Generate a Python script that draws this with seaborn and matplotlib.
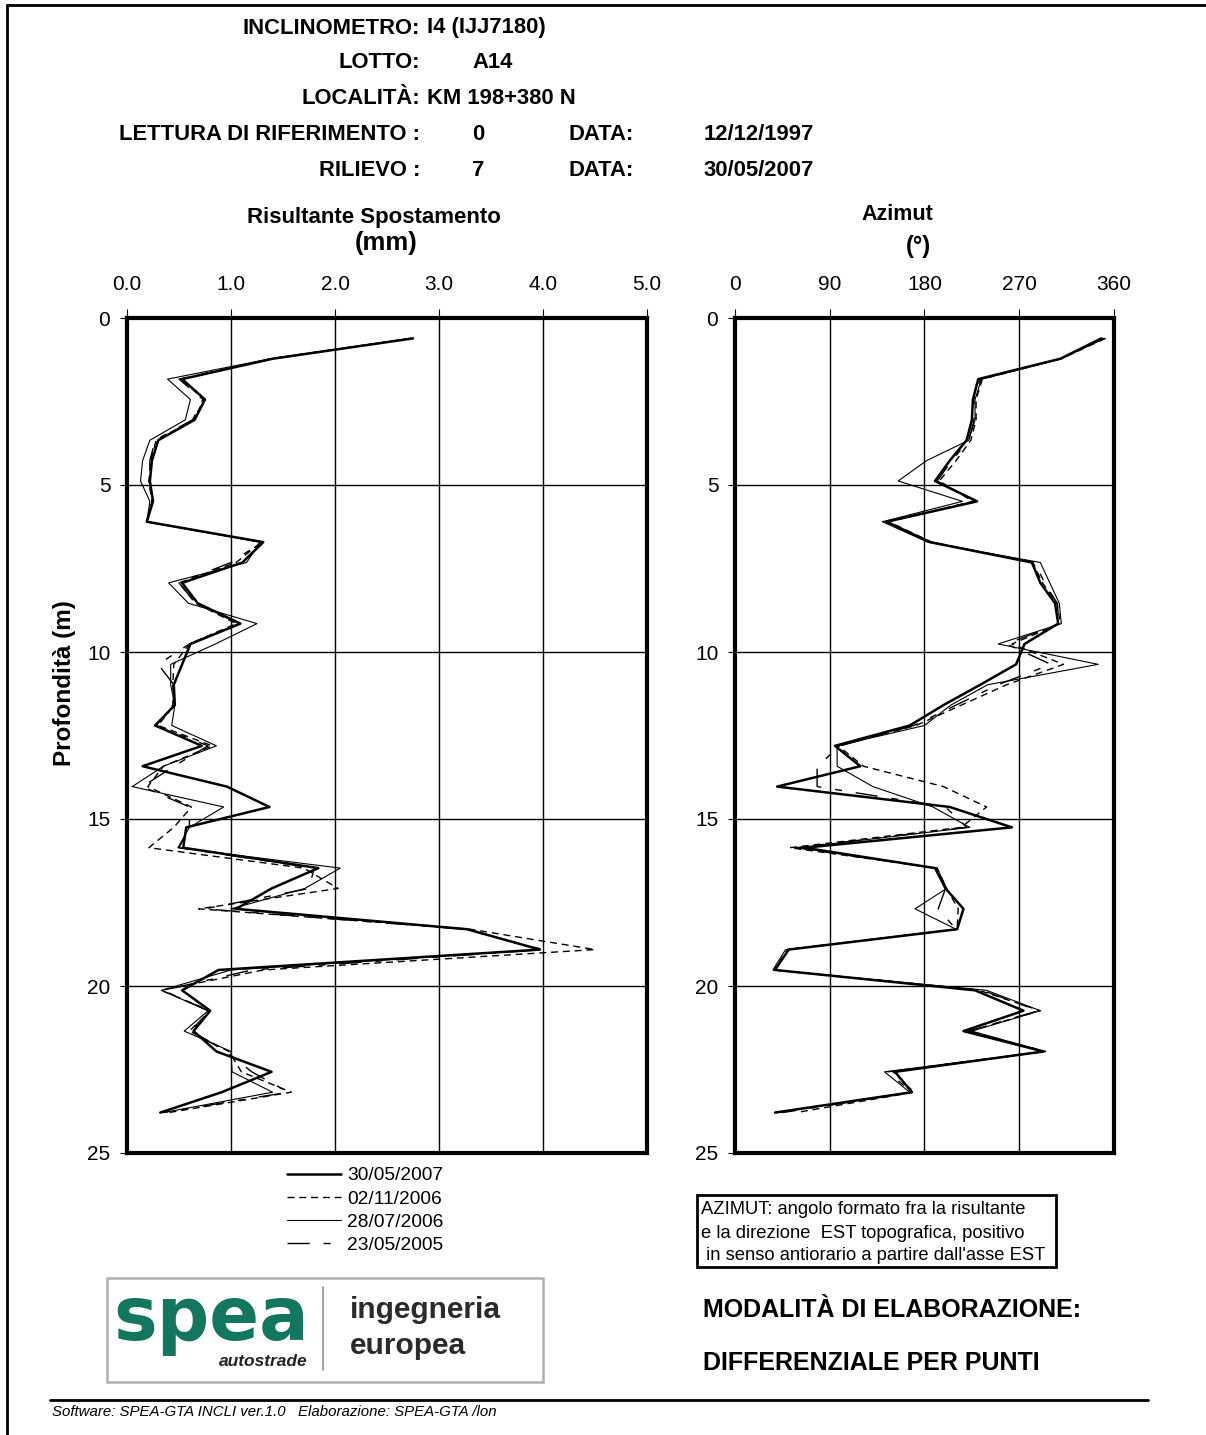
import numpy as np
import pandas as pd
import matplotlib
matplotlib.use("Agg")
import matplotlib.pyplot as plt
from matplotlib.lines import Line2D
from matplotlib.patches import Rectangle
import seaborn as sns


sns.set_style("white")
plt.rcParams['font.family'] = ['Liberation Sans', 'DejaVu Sans']
plt.rcParams['text.color'] = 'black'
plt.rcParams['axes.labelcolor'] = 'black'
plt.rcParams['xtick.color'] = 'black'
plt.rcParams['ytick.color'] = 'black'

W, H = 1206, 1435

# depth of readings (m), every 0.61 m
depth = [0.61, 1.22, 1.83, 2.44, 3.05, 3.66, 4.27, 4.88, 5.49, 6.10,
         6.71, 7.32, 7.93, 8.54, 9.15, 9.76, 10.37, 10.98, 11.59, 12.20,
         12.81, 13.42, 14.03, 14.64, 15.25, 15.86, 16.47, 17.08, 17.69, 18.30,
         18.91, 19.52, 20.13, 20.74, 21.35, 21.96, 22.57, 23.18, 23.79]

dates = ['30/05/2007', '02/11/2006', '28/07/2006', '23/05/2005']

# risultante spostamento (mm)
disp_20070530 = [2.75, 1.40, 0.53, 0.75, 0.65, 0.30, 0.24, 0.22, 0.25, 0.19,
                 1.31, 1.11, 0.53, 0.68, 1.09, 0.61, 0.53, 0.45, 0.46, 0.27,
                 0.72, 0.15, 0.96, 1.37, 0.57, 0.54, 1.84, 1.39, 1.05, 3.27,
                 3.97, 0.88, 0.53, 0.80, 0.64, 0.86, 1.39, 0.91, 0.32]
disp_20061102 = [2.73, 1.38, 0.52, 0.74, 0.64, 0.28, 0.23, 0.21, 0.24, 0.19,
                 1.29, 1.05, 0.50, 0.66, 1.05, 0.60, 0.45, 0.44, 0.45, 0.30,
                 0.82, 0.35, 0.20, 0.62, 0.45, 0.21, 1.70, 2.03, 0.69, 3.30,
                 4.50, 1.31, 0.33, 0.80, 0.60, 0.98, 1.10, 1.58, 0.40]
disp_20060728 = [2.72, 1.38, 0.39, 0.61, 0.56, 0.22, 0.15, 0.13, 0.22, 0.19,
                 1.28, 1.15, 0.40, 0.59, 1.25, 0.85, 0.42, 0.42, 0.46, 0.43,
                 0.86, 0.35, 0.05, 0.93, 0.60, 0.49, 2.05, 1.71, 1.00, 3.27,
                 3.97, 1.00, 0.33, 0.78, 0.55, 1.00, 1.01, 1.40, 0.35]
disp_20050523 = [2.74, 1.40, 0.50, 0.73, 0.63, 0.27, 0.22, 0.22, 0.24, 0.19,
                 1.30, 1.00, 0.50, 0.66, 1.08, 0.60, 0.30, 0.45, 0.44, 0.28,
                 0.78, 0.45, 0.15, 0.60, 0.60, 0.50, 1.80, 1.75, 0.75, 3.25,
                 4.00, 1.20, 0.35, 0.78, 0.62, 0.95, 1.20, 1.55, 0.35]

# azimut (gradi)
azi_20070530 = [348, 309, 231, 226, 225, 220, 204, 190, 230, 144,
                185, 282, 290, 304, 307, 275, 267, 233, 198, 166,
                95, 119, 40, 204, 263, 66, 190, 200, 217, 211,
                51, 38, 228, 274, 217, 293, 152, 168, 38]
azi_20061102 = [352, 310, 235, 229, 229, 224, 210, 194, 226, 146,
                187, 283, 292, 306, 309, 263, 312, 258, 215, 172,
                98, 122, 198, 239, 215, 52, 192, 201, 212, 211,
                50, 37, 232, 290, 222, 295, 150, 170, 58]
azi_20060728 = [350, 310, 234, 228, 228, 222, 182, 155, 216, 140,
                183, 290, 299, 308, 310, 250, 345, 240, 205, 180,
                97, 97, 131, 188, 223, 60, 192, 201, 171, 210,
                48, 36, 239, 290, 225, 294, 142, 166, 40]
azi_20050523 = [351, 309, 233, 227, 227, 222, 206, 192, 228, 143,
                186, 285, 294, 306, 308, 258, 300, 250, 210, 170,
                100, 78, 78, 200, 220, 58, 190, 200, 193, 210,
                50, 38, 235, 288, 222, 294, 145, 168, 45]

disp_ticks = [0.0, 1.0, 2.0, 3.0, 4.0, 5.0]
azi_ticks = [0, 90, 180, 270, 360]
depth_ticks = [0, 5, 10, 15, 20, 25]

styles = {
    '30/05/2007': dict(lw=1.8, ls='-'),
    '02/11/2006': dict(lw=1.0, ls=(0, (5, 3.5))),
    '28/07/2006': dict(lw=0.8, ls='-'),
    '23/05/2005': dict(lw=1.0, ls=(0, (16, 10, 5, 10))),
}

disp = pd.DataFrame({'depth': depth * 4,
                     'value': disp_20070530 + disp_20061102 + disp_20060728 + disp_20050523,
                     'date': sum([[d] * len(depth) for d in dates], [])})
azi = pd.DataFrame({'depth': depth * 4,
                    'value': azi_20070530 + azi_20061102 + azi_20060728 + azi_20050523,
                    'date': sum([[d] * len(depth) for d in dates], [])})


def px(x, y):
    return x / W, 1 - y / H


fig = plt.figure(figsize=(W / 100, H / 100), dpi=100)
ax1 = fig.add_axes([127 / W, 1 - 1153 / H, 520 / W, 835 / H])
ax2 = fig.add_axes([735 / W, 1 - 1153 / H, 379 / W, 835 / H])


def draw(ax, df, xlim, xticks, xlabels):
    # oldest first so the latest reading ends up on top
    for d in dates[::-1]:
        sub = df[df['date'] == d]
        sns.lineplot(data=sub, x='value', y='depth', sort=False, estimator=None,
                     ax=ax, color='black', label=d, linewidth=styles[d]['lw'],
                     linestyle=styles[d]['ls'])
    if ax.get_legend() is not None:
        ax.get_legend().remove()
    ax.set_xlim(*xlim)
    ax.set_ylim(25, 0)
    ax.set_xticks(xticks)
    ax.set_xticklabels(xlabels)
    ax.set_yticks(depth_ticks)
    ax.xaxis.tick_top()
    ax.set_xlabel('')
    ax.set_ylabel('')
    ax.grid(True, color='black', linewidth=1.0)
    ax.tick_params(axis='x', top=True, bottom=False, direction='out', length=6.5,
                   width=0.8, pad=11, labelsize=15)
    ax.tick_params(axis='y', left=True, direction='out', length=5, width=0.8,
                   pad=7, labelsize=15)
    for s in ax.spines.values():
        s.set_linewidth(3)
        s.set_color('black')
        s.set_zorder(5)


draw(ax1, disp, (0, 5), disp_ticks, ['%.1f' % t for t in disp_ticks])
draw(ax2, azi, (0, 360), azi_ticks, [str(t) for t in azi_ticks])

# header
rows = [28, 63, 98, 134, 170]
hk = dict(fontsize=15.8, fontweight='bold', va='center')
fig.text(*px(420, rows[0]), 'INCLINOMETRO:', ha='right', **hk)
fig.text(*px(427, rows[0]), 'I4 (IJJ7180)', ha='left', **hk)
fig.text(*px(420, rows[1]), 'LOTTO:', ha='right', **hk)
fig.text(*px(472, rows[1]), 'A14', ha='left', **hk)
fig.text(*px(420, rows[2]), 'LOCALITÀ:', ha='right', **hk)
fig.text(*px(427, rows[2]), 'KM 198+380 N', ha='left', **hk)
fig.text(*px(420, rows[3]), 'LETTURA DI RIFERIMENTO :', ha='right', **hk)
fig.text(*px(472, rows[3]), '0', ha='left', **hk)
fig.text(*px(568, rows[3]), 'DATA:', ha='left', **hk)
fig.text(*px(704, rows[3]), '12/12/1997', ha='left', **hk)
fig.text(*px(420, rows[4]), 'RILIEVO :', ha='right', **hk)
fig.text(*px(472, rows[4]), '7', ha='left', **hk)
fig.text(*px(568, rows[4]), 'DATA:', ha='left', **hk)
fig.text(*px(704, rows[4]), '30/05/2007', ha='left', **hk)

# axis titles
fig.text(*px(374, 218), 'Risultante Spostamento', ha='center', va='center',
         fontsize=16, fontweight='bold')
fig.text(*px(386, 243), '(mm)', ha='center', va='center', fontsize=18.5, fontweight='bold')
fig.text(*px(897, 214), 'Azimut', ha='center', va='center', fontsize=15.5, fontweight='bold')
fig.text(*px(918, 247), '(°)', ha='center', va='center', fontsize=17, fontweight='bold')
fig.text(*px(65, 683), 'Profondità (m)', ha='center', va='center', rotation=90,
         fontsize=17.5, fontweight='bold')

# legend
handles = [Line2D([], [], color='black', lw=styles[d]['lw'], ls=styles[d]['ls']) for d in dates]
fig.legend(handles, dates, loc='upper left', bbox_to_anchor=px(287, 1167), frameon=False,
           fontsize=13.8, handlelength=2.8, handletextpad=0.35, labelspacing=0.3,
           borderpad=0, borderaxespad=0)

# logo
fig.add_artist(Rectangle(px(107, 1382), 436 / W, 104 / H, transform=fig.transFigure,
                         fill=False, edgecolor='#b0b0b0', lw=1.8))
fig.add_artist(Line2D([323 / W, 323 / W], [1 - 1287 / H, 1 - 1370 / H],
                      transform=fig.transFigure, color='#909090', lw=1.2))
fig.text(*px(113, 1340), 'spea', ha='left', va='baseline', fontsize=53, fontweight='bold',
         color='#13775f', family='DejaVu Sans')
fig.text(*px(308, 1362), 'autostrade', ha='right', va='center', fontsize=12.5,
         fontweight='bold', style='italic', color='#222222')
fig.text(*px(350, 1310), 'ingegneria', ha='left', va='center', fontsize=21.5,
         fontweight='bold', color='#2a2a2a')
fig.text(*px(350, 1346), 'europea', ha='left', va='center', fontsize=21.5,
         fontweight='bold', color='#2a2a2a')

# azimut note
fig.add_artist(Rectangle(px(697, 1267), 359 / W, 72 / H, transform=fig.transFigure,
                         fill=False, edgecolor='black', lw=2))
nk = dict(fontsize=13.2, ha='left', va='center')
fig.text(*px(701, 1210), 'AZIMUT: angolo formato fra la risultante', **nk)
fig.text(*px(701, 1233), 'e la direzione  EST topografica, positivo', **nk)
fig.text(*px(701, 1256), ' in senso antiorario a partire dall\'asse EST', **nk)

fig.text(*px(703, 1310), 'MODALITÀ DI ELABORAZIONE:', ha='left', va='center',
         fontsize=18, fontweight='bold')
fig.text(*px(703, 1363), 'DIFFERENZIALE PER PUNTI', ha='left', va='center',
         fontsize=18, fontweight='bold')

# footer and page border
fig.add_artist(Line2D([50 / W, 1148 / W], [1 - 1400 / H, 1 - 1400 / H],
                      transform=fig.transFigure, color='black', lw=2))
fig.text(*px(52, 1412), 'Software: SPEA-GTA INCLI ver.1.0   Elaborazione: SPEA-GTA /lon',
         ha='left', va='center', fontsize=10.8, style='italic')
fig.add_artist(Line2D([7 / W, 7 / W], [0, 1 - 5 / H], transform=fig.transFigure,
                      color='black', lw=2))
fig.add_artist(Line2D([7 / W, 1], [1 - 5 / H, 1 - 5 / H], transform=fig.transFigure,
                      color='black', lw=2))

fig.savefig('out.png', dpi=100, facecolor='white')
